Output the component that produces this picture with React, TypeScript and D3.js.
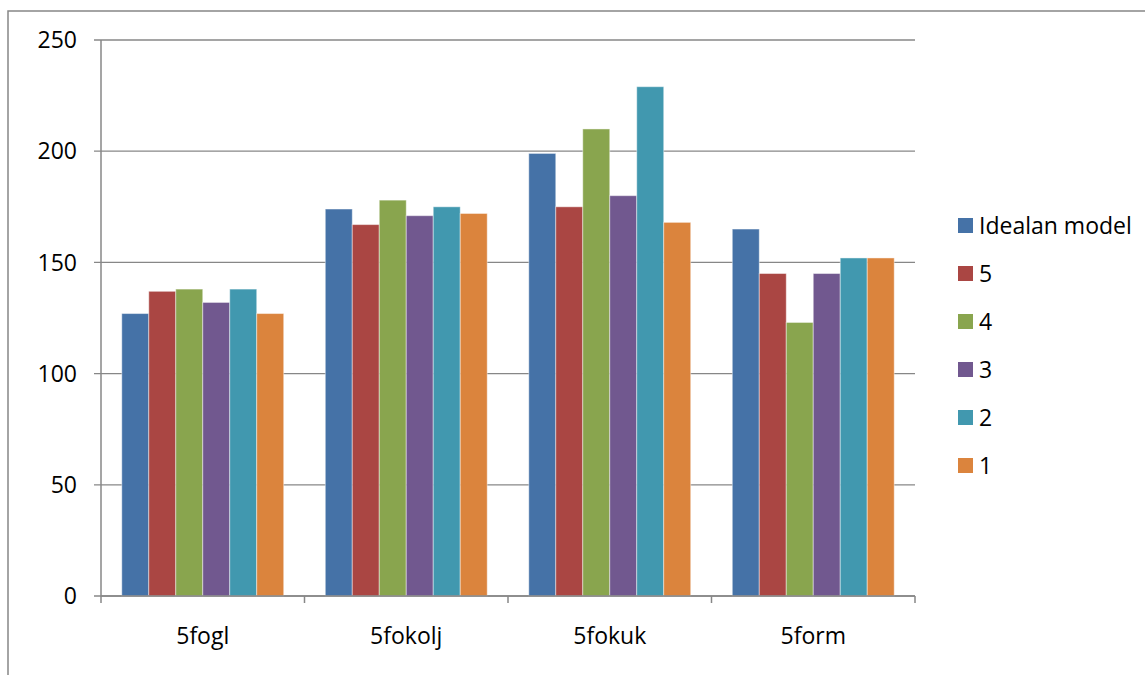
import React from 'react';
import * as d3 from 'd3';

const categories = ['5fogl', '5fokolj', '5fokuk', '5form'];
const seriesNames = ['Idealan model', '5', '4', '3', '2', '1'];
const seriesColors = ['#4572A7', '#AA4643', '#89A54E', '#71588F', '#4198AF', '#DB843D'];
// values per series, one per category
const idealan = [127, 174, 199, 165];
const s5 = [137, 167, 175, 145];
const s4 = [138, 178, 210, 123];
const s3 = [132, 171, 180, 145];
const s2 = [138, 175, 229, 152];
const s1 = [127, 172, 168, 152];
const yTicks = [0, 50, 100, 150, 200, 250];

const allSeries = [idealan, s5, s4, s3, s2, s1];

const App = () => {
  const width = 1145;
  const height = 675;
  const plot = { left: 101, right: 915, top: 40, bottom: 596 };
  const font = "'Open Sans', sans-serif";
  const grey = '#878787';

  const x0 = d3.scaleBand().domain(categories).range([plot.left, plot.right]).padding(0);
  const x1 = d3
    .scaleBand()
    .domain(seriesNames)
    .range([0, x0.bandwidth()])
    .paddingInner(0)
    .paddingOuter(0.77);
  const y = d3.scaleLinear().domain([0, 250]).range([plot.bottom, plot.top]);

  const legendY = d3.scalePoint().domain(seriesNames).range([225.5, 465.5]);

  return (
    <svg
      width={width}
      height={height}
      style={{ position: 'absolute', left: 0, top: 0, background: '#fff' }}
    >
      {/* chart frame, runs off the page on right and bottom */}
      <rect x={8} y={11} width={width + 20} height={height + 20} fill="#fff" stroke={grey} strokeWidth={1.5} />

      {/* gridlines */}
      {yTicks.map(t => (
        <line key={t} x1={plot.left - 7} x2={plot.right} y1={y(t)} y2={y(t)} stroke={grey} strokeWidth={1.3} />
      ))}

      {/* bars */}
      {allSeries.map((vals, si) => (
        <g key={si}>
          {vals.map((v, ci) => (
            <rect
              key={ci}
              x={(x0(categories[ci]) as number) + (x1(seriesNames[si]) as number)}
              y={y(v)}
              width={x1.bandwidth()}
              height={y(0) - y(v)}
              fill={seriesColors[si]}
              stroke="rgba(255,255,255,0.45)"
              strokeWidth={1}
            />
          ))}
        </g>
      ))}

      {/* axes */}
      <line x1={plot.left} x2={plot.left} y1={plot.top} y2={plot.bottom} stroke={grey} strokeWidth={1.5} />
      <line x1={plot.left} x2={plot.right} y1={plot.bottom} y2={plot.bottom} stroke={grey} strokeWidth={1.5} />
      {categories.concat(['end']).map((c, i) => {
        const xv = i < categories.length ? (x0(c) as number) : plot.right;
        return <line key={c} x1={xv} x2={xv} y1={plot.bottom} y2={plot.bottom + 7} stroke={grey} strokeWidth={1.5} />;
      })}

      {/* y labels */}
      {yTicks.map(t => (
        <text
          key={t}
          x={77}
          y={y(t)}
          dy="0.36em"
          textAnchor="end"
          fontFamily={font}
          fontSize={23}
          fill="#000"
        >
          {t}
        </text>
      ))}

      {/* x labels */}
      {categories.map(c => (
        <text
          key={c}
          x={(x0(c) as number) + x0.bandwidth() / 2}
          y={644}
          textAnchor="middle"
          fontFamily={font}
          fontSize={23}
          fill="#000"
        >
          {c}
        </text>
      ))}

      {/* legend */}
      {seriesNames.map((s, i) => (
        <g key={s} transform={`translate(958, ${legendY(s)})`}>
          <rect x={0} y={-7.5} width={15} height={15} fill={seriesColors[i]} />
          <text x={21} y={0} dy="0.37em" fontFamily={font} fontSize={23} fill="#000">
            {s}
          </text>
        </g>
      ))}
    </svg>
  );
};

export default App;
